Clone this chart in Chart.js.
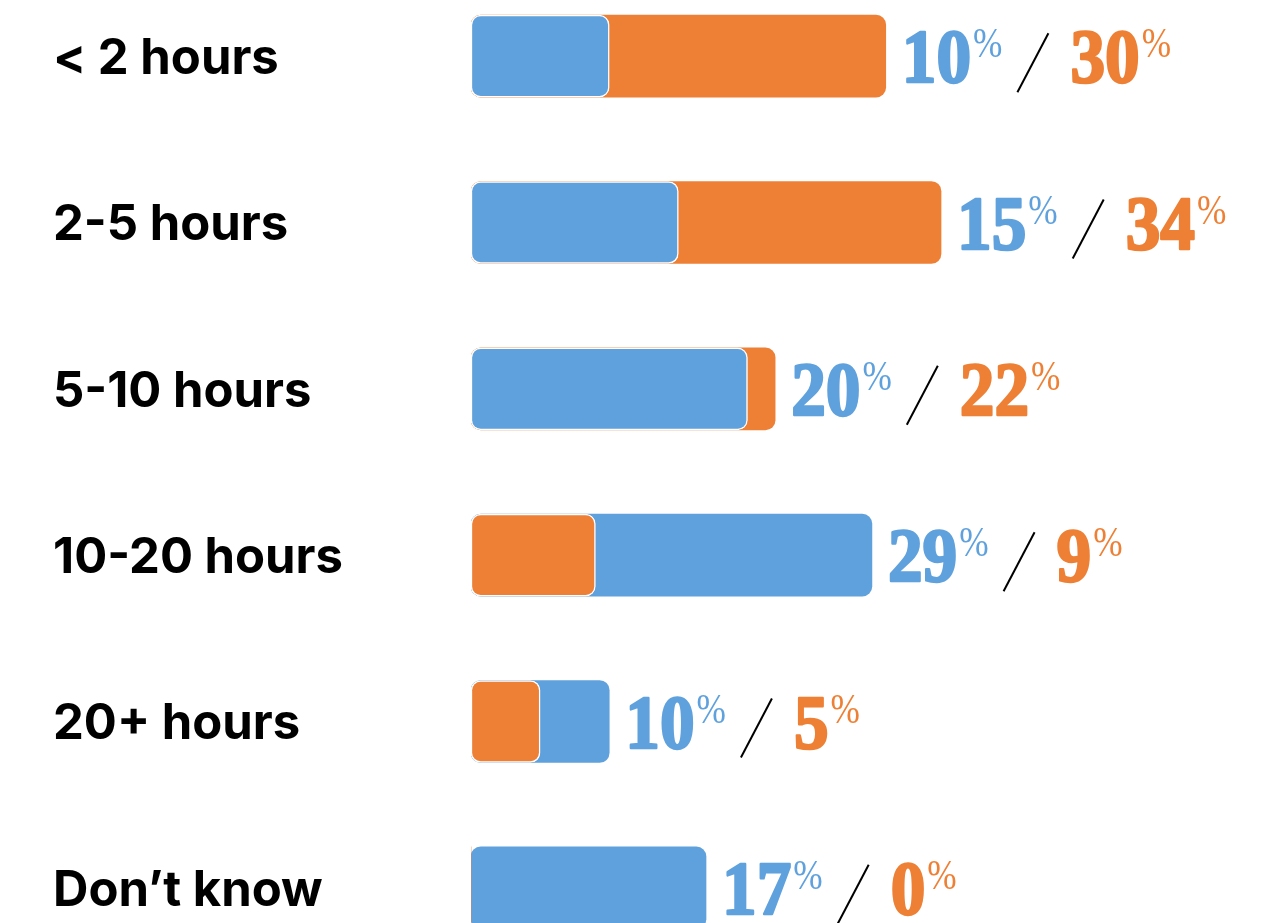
<!DOCTYPE html>
<html>
<head>
<meta charset="utf-8">
<script src="https://cdn.jsdelivr.net/npm/chart.js@4/dist/chart.umd.min.js"></script>
<style>
  html, body { margin: 0; padding: 0; background: #fff; overflow: hidden; }
  #wrap { position: absolute; left: 0; top: -27px; width: 1261px; height: 998px; }
</style>
</head>
<body>
<div id="wrap"><canvas id="js-chart"></canvas></div>
<script>
const CATEGORIES = ["< 2 hours", "2-5 hours", "5-10 hours", "10-20 hours", "20+ hours", "Don’t know"];
const BLUE_VALUES = [10, 15, 20, 29, 10, 17];
const ORANGE_VALUES = [30, 34, 22, 9, 5, 0];

const BLUE = "#5fa1dd";
const ORANGE = "#ee8035";

// bars overlap, so the shorter one of each pair goes in front
function splitPairs(blue, orange) {
  return blue.reduce(
    (acc, b, i) => {
      const o = orange[i];
      const blueFront = b <= o;
      acc.front.push(blueFront ? b : o);
      acc.back.push(blueFront ? o : b);
      acc.frontColors.push(blueFront ? BLUE : ORANGE);
      acc.backColors.push(blueFront ? ORANGE : BLUE);
      return acc;
    },
    { front: [], back: [], frontColors: [], backColors: [] }
  );
}

function drawPart(ctx, text, x, baseline, font, color, squeeze, heavy) {
  ctx.save();
  ctx.font = font;
  ctx.fillStyle = color;
  ctx.strokeStyle = color;
  ctx.lineWidth = heavy;
  ctx.lineJoin = "round";
  ctx.textBaseline = "alphabetic";
  ctx.textAlign = "left";
  ctx.translate(x, baseline);
  ctx.scale(squeeze, 1);
  ctx.fillText(text, 0, 0);
  if (heavy > 0) ctx.strokeText(text, 0, 0);
  const w = ctx.measureText(text).width * squeeze;
  ctx.restore();
  return x + w;
}

const valueLabels = {
  id: "valueLabels",
  afterDatasetsDraw(chart) {
    const ctx = chart.ctx;
    const xScale = chart.scales.x;
    const yScale = chart.scales.y;
    const numFont = "bold 77px 'Liberation Serif'";
    const pctFont = "43px 'Liberation Serif'";

    CATEGORIES.forEach((cat, i) => {
      const b = BLUE_VALUES[i];
      const o = ORANGE_VALUES[i];
      const yc = yScale.getPixelForValue(i);
      const base = yc + 26;
      let x = xScale.getPixelForValue(Math.max(b, o)) + 16;

      x = drawPart(ctx, String(b), x, base, numFont, BLUE, 0.9, 2.5);
      x = drawPart(ctx, "%", x + 2, base - 25, pctFont, BLUE, 0.82, 0);

      // thin slash between the two numbers
      ctx.save();
      ctx.strokeStyle = "#000";
      ctx.lineWidth = 2;
      ctx.beginPath();
      ctx.moveTo(x + 15, yc + 36);
      ctx.lineTo(x + 46, yc - 23);
      ctx.stroke();
      ctx.restore();

      x = drawPart(ctx, String(o), x + 68, base, numFont, ORANGE, 0.9, 2.5);
      drawPart(ctx, "%", x + 2, base - 25, pctFont, ORANGE, 0.82, 0);
    });
  },
};

function drawChart() {
  const context = document.getElementById("js-chart").getContext("2d");
  const { front, back, frontColors, backColors } = splitPairs(BLUE_VALUES, ORANGE_VALUES);

  new Chart(context, {
    type: "bar",
    data: {
      labels: CATEGORIES,
      datasets: [
        {
          label: "front",
          data: front,
          backgroundColor: frontColors,
          borderColor: "#fff",
          borderWidth: front.map((v) => (v > 0 ? 1.5 : 0)),
          borderRadius: 10,
          borderSkipped: false,
          order: 0,
        },
        {
          label: "back",
          data: back,
          backgroundColor: backColors,
          borderWidth: 0,
          borderRadius: 10,
          borderSkipped: false,
          order: 1,
        },
      ],
    },
    options: {
      indexAxis: "y",
      responsive: true,
      maintainAspectRatio: false,
      animation: false,
      grouped: false,
      barThickness: 82,
      layout: { padding: { left: 53, right: 2, top: 0, bottom: 0 } },
      plugins: {
        legend: { display: false },
        tooltip: { enabled: false },
      },
      scales: {
        x: {
          min: 0,
          max: 57,
          display: false,
        },
        y: {
          grid: { display: false },
          border: { display: false },
          afterFit(scale) {
            scale.width = 418;
            scale.paddingTop = 0;
            scale.paddingBottom = 0;
          },
          ticks: {
            color: "#000",
            crossAlign: "far",
            labelOffset: 3,
            font: { family: "Inter", weight: "700", size: 49 },
          },
        },
      },
    },
    plugins: [valueLabels],
  });
}

drawChart();
</script>
</body>
</html>
